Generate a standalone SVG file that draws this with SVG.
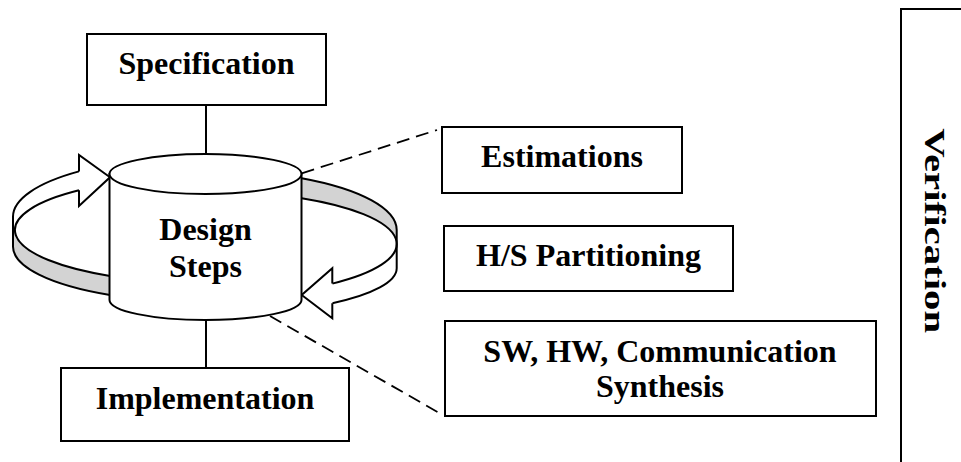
<svg xmlns="http://www.w3.org/2000/svg" width="961" height="462" viewBox="0 0 961 462">
  <style>
    .box { fill: #ffffff; stroke: #000000; stroke-width: 2; }
    .line { fill: none; stroke: #000000; stroke-width: 2; }
    .dash { fill: none; stroke: #000000; stroke-width: 1.8; stroke-dasharray: 13 7; }
    .band { fill: #d3d3d3; stroke: none; }
    .head { fill: #ffffff; stroke: #000000; stroke-width: 2; stroke-linejoin: miter; }
    .lbl { font-family: "Liberation Serif", "Times New Roman", serif; font-weight: bold; font-size: 32px; fill: #000000; text-anchor: middle; }
  </style>
  <rect x="0" y="0" width="961" height="462" fill="#ffffff"/>

  <g id="connectors">
    <line class="line" x1="206" y1="105" x2="206" y2="154"/>
    <line class="line" x1="206" y1="320" x2="206" y2="368"/>
    <line class="dash" x1="301.7" y1="173.3" x2="437" y2="130"/>
    <line class="dash" x1="270" y1="316" x2="441" y2="414"/>
  </g>

  <g id="cycle-arrows">
    <!-- left arrow -->
    <path class="band" d="M15,230 A190,53 0 0 0 110,275.9 L110,295 A192,55.6 0 0 1 13,246.7 L13,230 Z"/>
    <path class="line" d="M79,171.4 A192,60 0 0 0 13,216.7 L13,246.7 A192,55.6 0 0 0 110,295"/>
    <path class="line" d="M79,190.3 A190,53 0 0 0 110,275.9"/>
    <path class="head" d="M79,171.4 L79,155 L110,177.3 L79,206 L79,190.3"/>
    <!-- right arrow -->
    <path class="band" d="M301.7,178.2 A191.7,60 0 0 1 396.7,230 L396.7,244 A191.7,53 0 0 0 301.7,198.2 Z"/>
    <path class="line" d="M301.7,178.2 A191.7,60 0 0 1 396.7,230 L396.7,268.3 A191.7,46.8 0 0 1 332.3,303.3"/>
    <path class="line" d="M301.7,198.2 A191.7,53 0 0 1 332.3,283.6"/>
    <path class="head" d="M332.3,283.6 L332.3,268.3 L301.7,295 L332.3,318.3 L332.3,303.3"/>
  </g>

  <g id="design-steps">
    <path class="box" d="M109.5,174 L109.5,300 A96,20 0 0 0 301.5,300 L301.5,174 Z"/>
    <ellipse class="box" cx="205.5" cy="174" rx="96" ry="20"/>
    <text class="lbl" x="205.5" y="240">Design</text>
    <text class="lbl" x="205.5" y="277">Steps</text>
  </g>

  <g id="specification">
    <rect class="box" x="87" y="34" width="239" height="71"/>
    <text class="lbl" x="206.5" y="74">Specification</text>
  </g>

  <g id="implementation">
    <rect class="box" x="61" y="368" width="288" height="73"/>
    <text class="lbl" x="205" y="409">Implementation</text>
  </g>

  <g id="estimations">
    <rect class="box" x="442" y="127" width="240" height="66"/>
    <text class="lbl" x="562" y="166.5">Estimations</text>
  </g>

  <g id="hs-partitioning">
    <rect class="box" x="444" y="226" width="289" height="65"/>
    <text class="lbl" x="588.5" y="266">H/S Partitioning</text>
  </g>

  <g id="synthesis">
    <rect class="box" x="445" y="321" width="431" height="95"/>
    <text class="lbl" x="660" y="362">SW, HW, Communication</text>
    <text class="lbl" x="660" y="397">Synthesis</text>
  </g>

  <g id="verification">
    <rect class="box" x="901" y="9" width="80" height="470"/>
    <text class="lbl" transform="translate(925,230.7) rotate(90)" x="0" y="0" style="font-size:29px" textLength="205" lengthAdjust="spacingAndGlyphs">Verification</text>
  </g>
</svg>
